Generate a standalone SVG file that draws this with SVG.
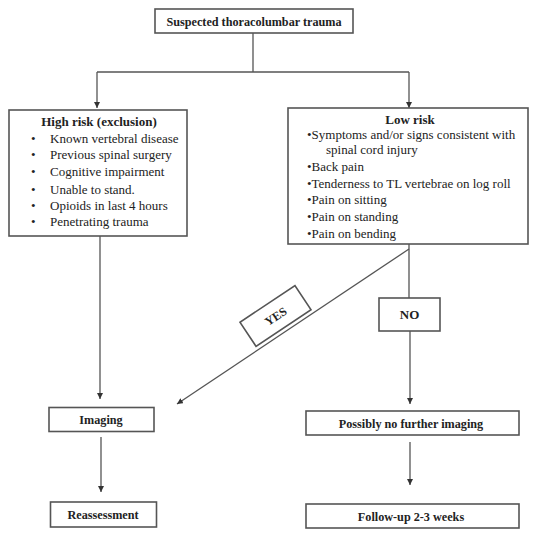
<svg xmlns="http://www.w3.org/2000/svg" width="539" height="535" viewBox="0 0 539 535">
<defs>
<marker id="ah" viewBox="0 0 10 10" refX="10" refY="5" markerWidth="6" markerHeight="6" markerUnits="userSpaceOnUse" orient="auto">
<path d="M0,0 L10,5 L0,10 z" fill="#333"/>
</marker>
</defs>
<style>
.box{fill:#fff;stroke:#555;stroke-width:1.6}
.t{font-family:"Liberation Serif","Times New Roman",serif;font-size:13px;fill:#222}
.b{font-weight:bold}
.s{font-size:12.2px}
.m{text-anchor:middle}
.c{fill:none;stroke:#555;stroke-width:1.3}
.a{marker-end:url(#ah)}
</style>
<rect width="539" height="535" fill="#fff"/>
<g id="connectors">
<path class="c" d="M253,33 V72 M97,72 H409"/>
<path class="c a" d="M97,72 V108"/>
<path class="c a" d="M409,72 V108"/>
<path class="c a" d="M100,236 V399"/>
<path class="c a" d="M409,249 L177,404"/>
<path class="c" d="M409,244 V249 M409,249 V298"/>
<path class="c a" d="M410,331 V404"/>
<path class="c a" d="M101,437 V492"/>
<path class="c a" d="M410,442 V485"/>
</g>
<g id="top">
<rect class="box" x="155" y="9" width="198" height="24"/>
<text class="t b m s" x="254" y="26">Suspected thoracolumbar trauma</text>
</g>
<g id="highrisk">
<rect class="box" x="9" y="110" width="178" height="126"/>
<text class="t b m" x="99" y="126">High risk (exclusion)</text>
<text class="t" x="31" y="143">•</text><text class="t" x="50" y="143">Known vertebral disease</text>
<text class="t" x="31" y="159">•</text><text class="t" x="50" y="159">Previous spinal surgery</text>
<text class="t" x="31" y="176">•</text><text class="t" x="50" y="176">Cognitive impairment</text>
<text class="t" x="31" y="194">•</text><text class="t" x="50" y="194">Unable to stand.</text>
<text class="t" x="31" y="210">•</text><text class="t" x="50" y="210">Opioids in last 4 hours</text>
<text class="t" x="31" y="226">•</text><text class="t" x="50" y="226">Penetrating trauma</text>
</g>
<g id="lowrisk">
<rect class="box" x="288" y="108" width="240" height="136"/>
<text class="t b m" x="410" y="124">Low risk</text>
<text class="t" x="307" y="139">•Symptoms and/or signs consistent with</text>
<text class="t" x="326" y="154">spinal cord injury</text>
<text class="t" x="307" y="171">•Back pain</text>
<text class="t" x="307" y="188">•Tenderness to TL vertebrae on log roll</text>
<text class="t" x="307" y="204">•Pain on sitting</text>
<text class="t" x="307" y="221">•Pain on standing</text>
<text class="t" x="307" y="238">•Pain on bending</text>
</g>
<g id="yes" transform="translate(275.5,316) rotate(-33.6)">
<rect class="box" x="-33" y="-14.5" width="66" height="29"/>
<text class="t b m" x="0" y="4.5" style="font-size:12px">YES</text>
</g>
<g id="no">
<rect class="box" x="379" y="298" width="61" height="33"/>
<text class="t b m" x="409.5" y="319">NO</text>
</g>
<g id="imaging">
<rect class="box" x="49" y="407.5" width="105" height="24"/>
<text class="t b m s" x="101" y="424">Imaging</text>
</g>
<g id="reassessment">
<rect class="box" x="50.5" y="502" width="106" height="25"/>
<text class="t b m s" x="103" y="519">Reassessment</text>
</g>
<g id="noimaging">
<rect class="box" x="306" y="411" width="213" height="24"/>
<text class="t b m s" x="411" y="428">Possibly no further imaging</text>
</g>
<g id="followup">
<rect class="box" x="306" y="504" width="213" height="24"/>
<text class="t b m s" x="411" y="521">Follow-up 2-3 weeks</text>
</g>
</svg>
